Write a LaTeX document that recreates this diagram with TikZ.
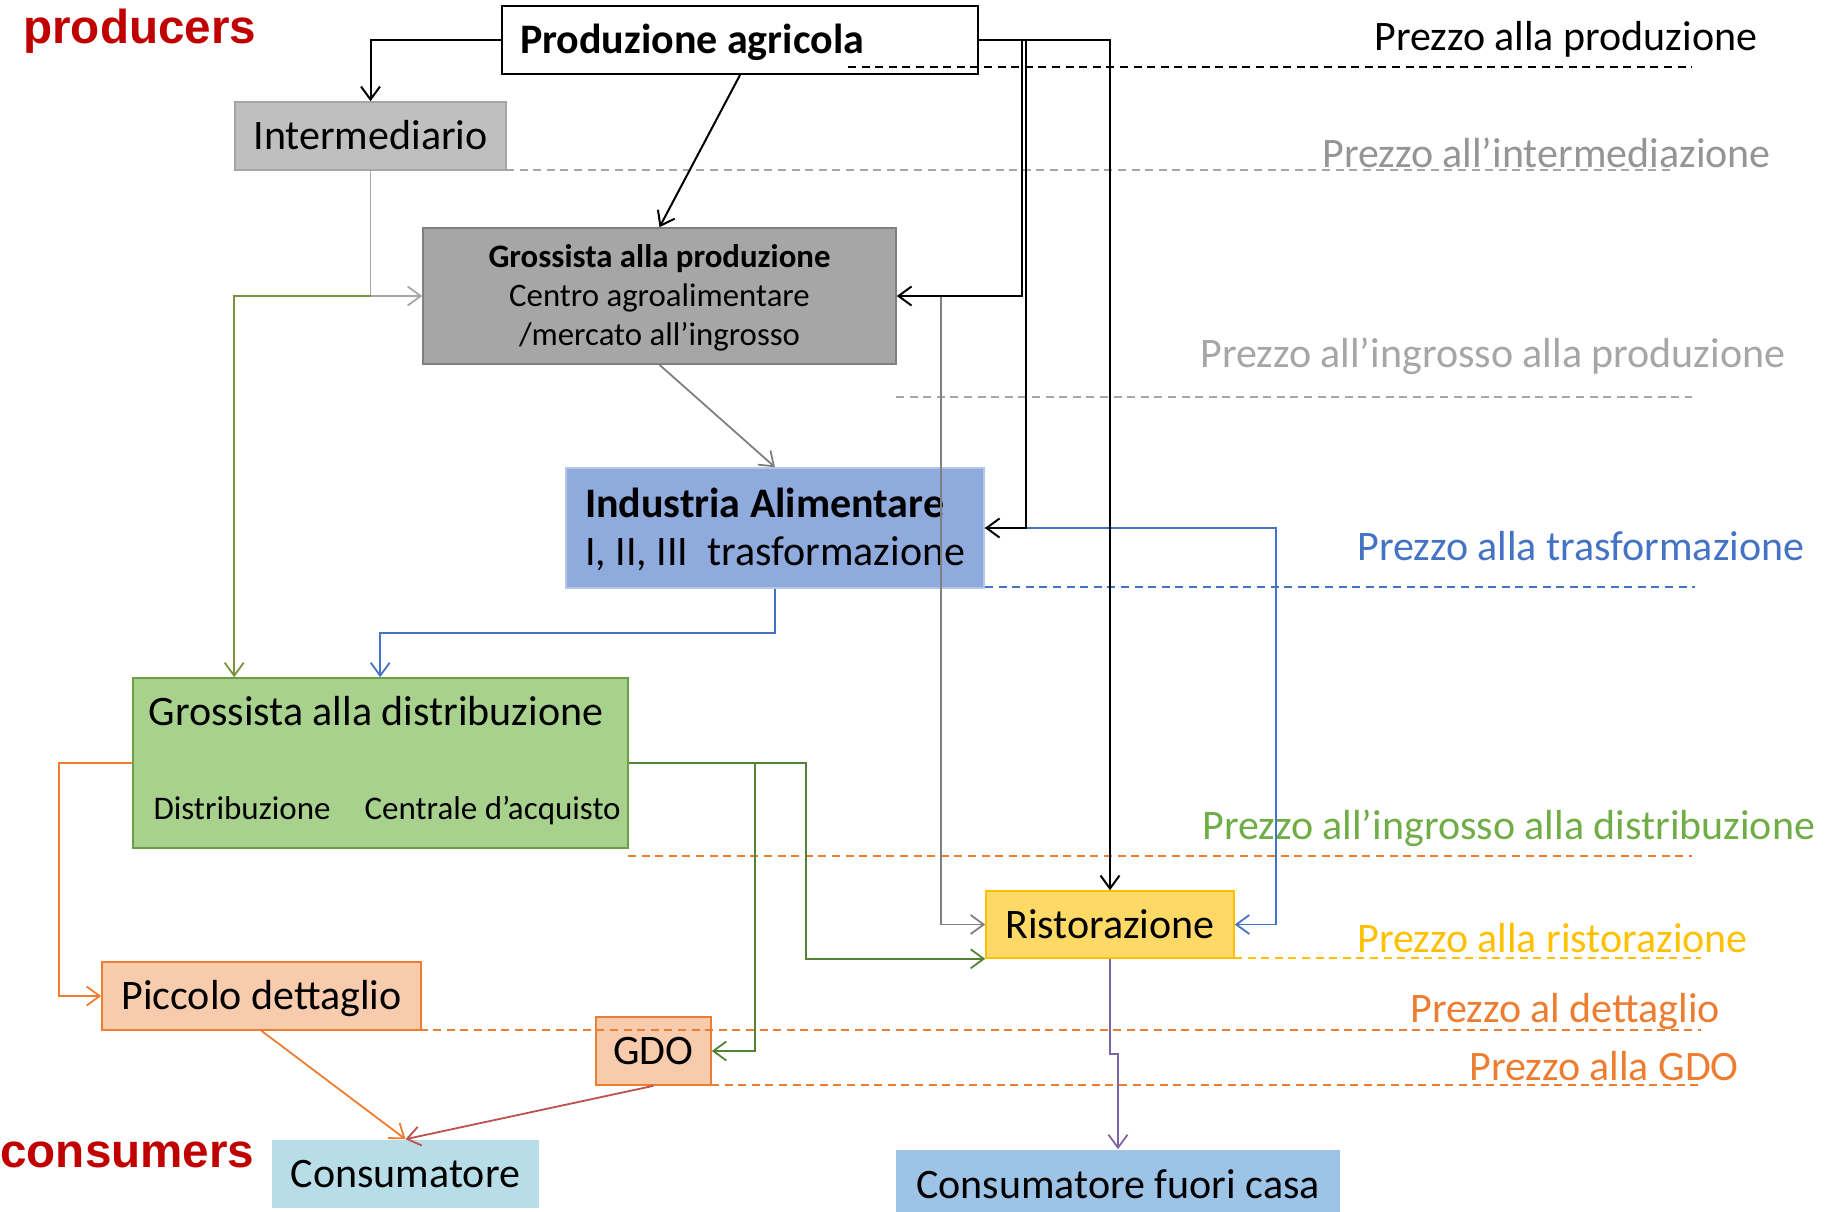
\documentclass[tikz,border=0pt]{standalone}
\usepackage{fontspec}
\setmainfont{Carlito}
\newfontfamily\headfont{Liberation Sans}
\usetikzlibrary{arrows.meta,calc}

% palette
\definecolor{headred}{HTML}{C00000}
\definecolor{interfill}{HTML}{BFBFBF}
\definecolor{interline}{HTML}{A5A5A5}
\definecolor{gpfill}{HTML}{A6A6A6}
\definecolor{gpline}{HTML}{7F7F7F}
\definecolor{indfill}{HTML}{8FAADC}
\definecolor{indline}{HTML}{B4C7E7}
\definecolor{gdfill}{HTML}{A9D18E}
\definecolor{gdline}{HTML}{6AA043}
\definecolor{retfill}{HTML}{F8CBAD}
\definecolor{retline}{HTML}{ED7D31}
\definecolor{ristfill}{HTML}{FFD966}
\definecolor{ristline}{HTML}{FFC000}
\definecolor{consfill}{HTML}{B7DEE8}
\definecolor{cfcfill}{HTML}{9DC3E6}
\definecolor{olive}{HTML}{77933C}
\definecolor{dkgreen}{HTML}{538135}
\definecolor{flowblue}{HTML}{4472C4}
\definecolor{floworange}{HTML}{ED7D31}
\definecolor{flowred}{HTML}{C0504D}
\definecolor{flowpurple}{HTML}{8064A2}
\definecolor{lightgrey}{HTML}{A6A6A6}
\definecolor{midgrey}{HTML}{808080}
\definecolor{labgrey}{HTML}{959595}
\definecolor{labgreen}{HTML}{70AD47}

\newcommand\bigtxt{\fontsize{21pt}{24pt}\selectfont}
\newcommand\smalltxt{\fontsize{16.4pt}{19.5pt}\selectfont}
\newcommand\subtxt{\fontsize{16.5pt}{19.5pt}\selectfont}
\newcommand\headtxt{\headfont\bfseries\fontsize{23.8pt}{28pt}\selectfont}
% natural word spaces inside ragged node text
\newcommand\natline[1]{\mbox{\spaceskip=0pt\xspaceskip=0pt #1}}

\begin{document}
\begin{tikzpicture}[x=0.5pt,y=-0.5pt,
  box/.style={inner sep=0pt, text height=13.5pt, text depth=0pt, font=\bigtxt, line width=0.8pt},
  arr/.style={-{Straight Barb[length=6.5pt,width=9.5pt]}, line width=0.9pt},
  price/.style={line width=1pt, dash pattern=on 4pt off 2.8pt},
  pricelabel/.style={anchor=base west, inner sep=0pt, font=\bigtxt},
  head/.style={anchor=base west, inner sep=0pt, font=\headtxt, text=headred}]

\clip (0,0) rectangle (1830,1211);

% ---- boxes ----
\node[box, fill=white, draw=black, line width=1pt, minimum height=34pt,
      text width=220pt, inner xsep=9pt, align=left, font=\bigtxt\bfseries]
      (prod) at (740,40) {\natline{Produzione agricola}};
\node[box, fill=interfill, draw=interline, minimum width=135.5pt, minimum height=34pt]
      (inter) at (370.5,136) {Intermediario};
\node[box, fill=gpfill, draw=gpline, minimum width=236.5pt, minimum height=68pt,
      align=center, font=\smalltxt, text height=49.6pt, text depth=0pt]
      (gp) at (659.5,296) {\textbf{Grossista alla produzione}\\Centro agroalimentare\\/mercato all’ingrosso};
\node[box, fill=indfill, draw=indline, minimum height=60pt,
      text width=190pt, inner xsep=9.5pt, align=left, text depth=24pt]
      (ind) at (775,528) {\natline{\bfseries Industria Alimentare}\\\natline{I, II, III\ \ trasformazione}};
\node[box, fill=gdfill, draw=gdline, minimum width=247.5pt, minimum height=85pt]
      (gd) at (380.5,763) {};
\node[anchor=base west, inner sep=0pt, font=\bigtxt] (gdtitle)
      at ([shift={(16,48.5)}]gd.north west) {Grossista alla distribuzione};
\node[anchor=base west, inner sep=0pt, font=\subtxt] (gddist)
      at ([shift={(21,142)}]gd.north west) {Distribuzione};
\node[anchor=base west, inner sep=0pt, font=\subtxt] (gdcentr)
      at ([shift={(232,142)}]gd.north west) {Centrale d’acquisto};
\node[box, fill=ristfill, draw=ristline, minimum width=124pt, minimum height=33.5pt]
      (rist) at (1110,924.5) {Ristorazione};
\node[box, fill=retfill, draw=retline, minimum width=159.5pt, minimum height=34pt]
      (pd) at (261.5,996) {Piccolo dettaglio};
\node[box, fill=retfill, draw=retline, minimum width=57.5pt, minimum height=34pt]
      (gdo) at (653.5,1051) {GDO};
\node[box, fill=consfill, minimum width=133.5pt, minimum height=34pt]
      (cons) at (405.5,1174) {Consumatore};
\node[box, fill=cfcfill, minimum width=222pt, minimum height=35pt]
      (cfc) at (1118,1185) {Consumatore fuori casa};

% ---- side headings ----
\node[head] (hprod) at (23,43) {producers};
\node[head] (hcons) at (0,1167) {consumers};

% ---- price levels ----
\draw[price, black]      (848,67)   -- (1692,67);
\draw[price, lightgrey]  (506,170)  -- (1674,170);
\draw[price, lightgrey]  (896,397)  -- (1692,397);
\draw[price, flowblue]   (985,587)  -- (1695,587);
\draw[price, floworange] (628,856)  -- (1692,856);
\draw[price, ristline]   (1234,958) -- (1701,958);
\draw[price, floworange] (406,1030) -- (1701,1030);
\draw[price, floworange] (711,1085) -- (1701,1085);

\node[pricelabel, text=black]      (lprod)  at (1374,50)  {Prezzo alla produzione};
\node[pricelabel, text=labgrey]    (linter) at (1322,167) {Prezzo all’intermediazione};
\node[pricelabel, text=lightgrey]  (lgp)    at (1200,367) {Prezzo all’ingrosso alla produzione};
\node[pricelabel, text=flowblue]   (lind)   at (1357,560) {Prezzo alla trasformazione};
\node[pricelabel, text=labgreen]   (lgd)    at (1202,839) {Prezzo all’ingrosso alla distribuzione};
\node[pricelabel, text=ristline]   (lrist)  at (1357,952) {Prezzo alla ristorazione};
\node[pricelabel, text=floworange] (lpd)    at (1410,1022) {Prezzo al dettaglio};
\node[pricelabel, text=floworange] (lgdo)   at (1469,1080) {Prezzo alla GDO};

% ---- flows ----
% intermediary and wholesale branch
\draw[arr, lightgrey] (inter.south) |- (gp.west);
\draw[arr, olive] (inter.south |- gp.west) -| ([xshift=51pt]gd.north west);
\draw[arr, gpline] (gp.south) -- (ind.north);
\draw[arr, midgrey] ([xshift=22pt]gp.east) |- (rist.west);

% food industry
\draw[arr, flowblue] (ind.south) -- ++(0,44) -| ([xshift=124pt]gd.north west);
\draw[arr, flowblue] (ind.east) -| ([xshift=20.5pt]rist.east) -- (rist.east);
\draw[flowblue, line width=0.9pt] ([xshift=145pt]ind.east) -- (ind.east);

% from the farm
\draw[arr, black, line width=1pt] (prod.west) -| (inter.north);
\draw[arr, black, line width=1pt] (prod.south) -- (gp.north);
\draw[arr, black, line width=1pt] (prod.east) -| ([xshift=62.5pt]gp.east) -- (gp.east);
\draw[arr, black, line width=1pt] (prod.east) -| ([xshift=20.5pt]ind.east) -- (ind.east);
\draw[arr, black, line width=1pt] (prod.east) -| (rist.north);

% distribution
\draw[arr, dkgreen] (gd.east) -| ([xshift=-89.5pt]rist.south west) -- (rist.south west);
\draw[arr, dkgreen] (gd.east) -| ([xshift=21.5pt]gdo.east) -- (gdo.east);
\draw[arr, floworange] (gd.west) -| ([xshift=-21pt]pd.west) -- (pd.west);

% to the consumers
\draw[arr, floworange] (pd.south) -- (cons.north);
\draw[arr, flowred] (gdo.south) -- (cons.north);
\draw[arr, flowpurple] (rist.south) -- ++(0,95) -| (cfc.north);

\end{tikzpicture}
\end{document}
